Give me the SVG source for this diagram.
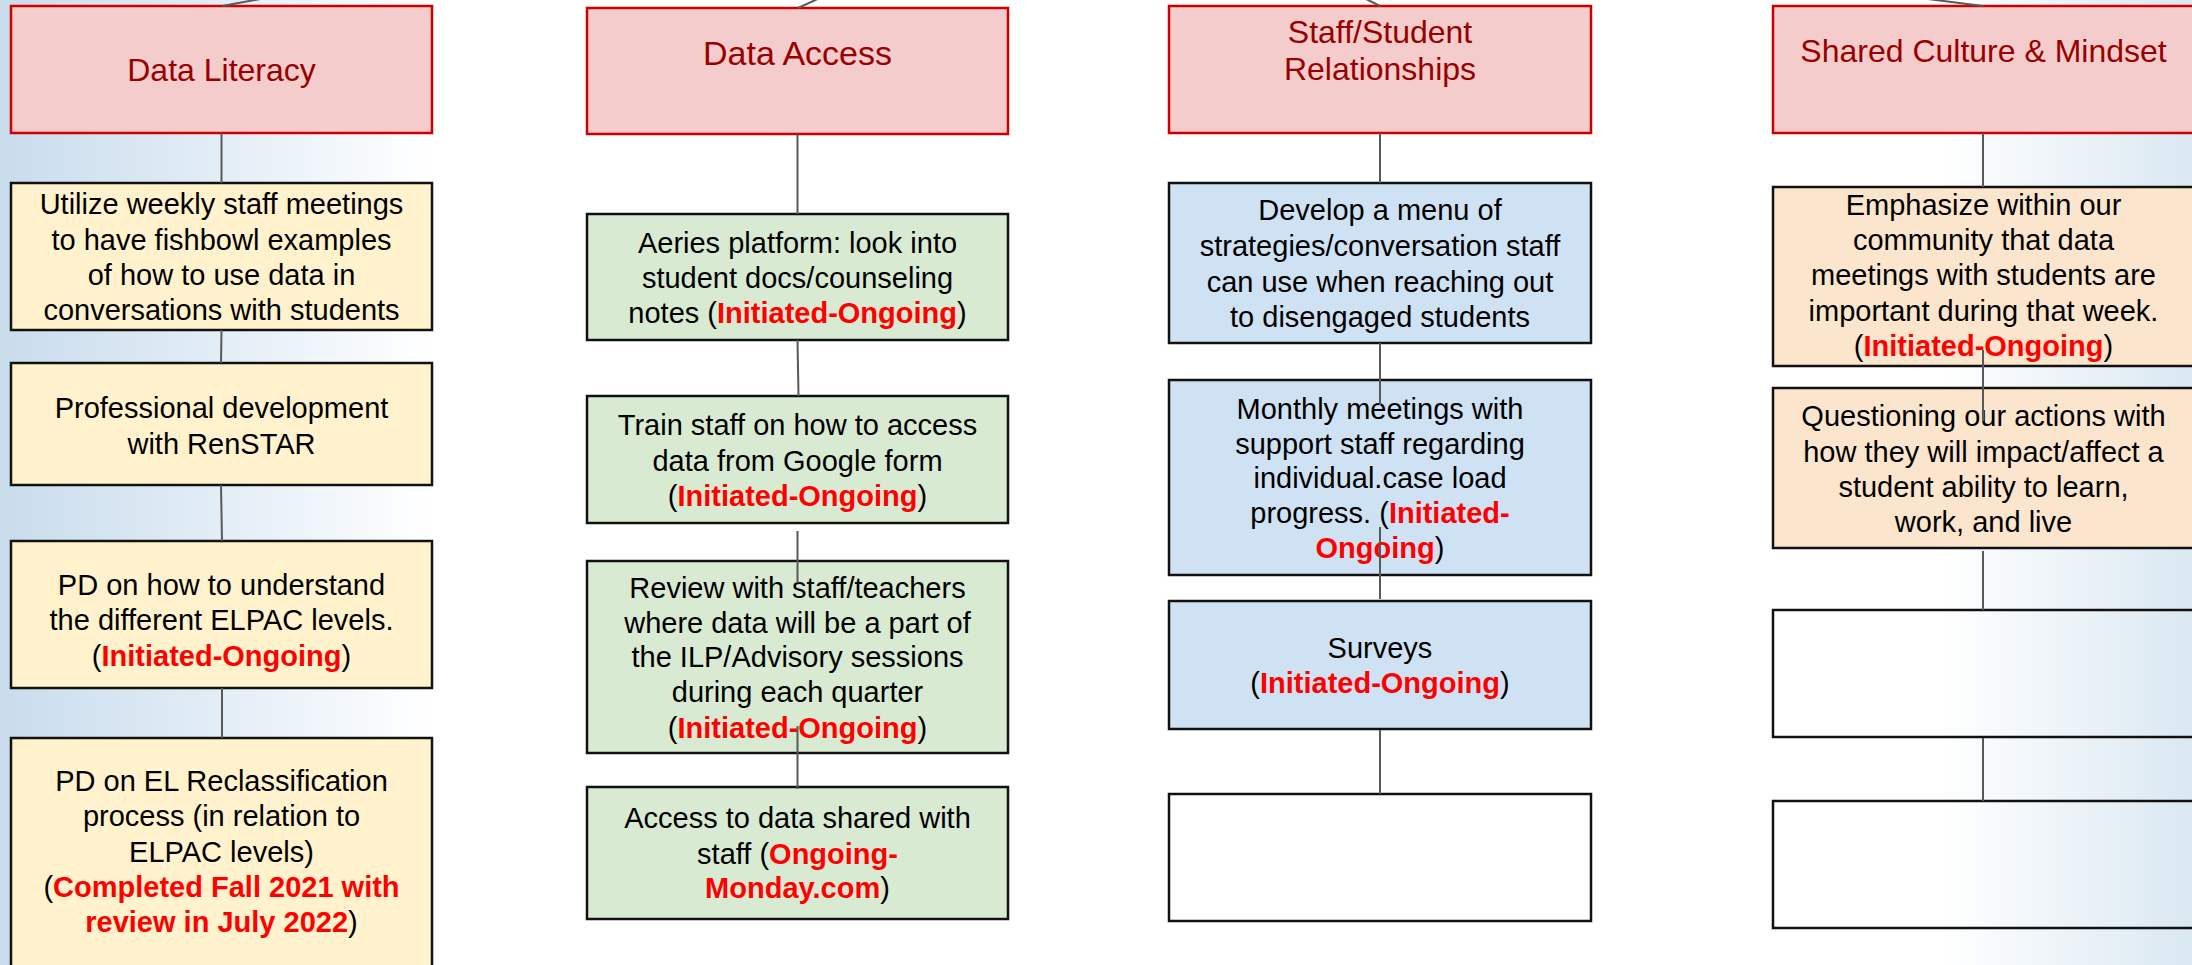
<svg xmlns="http://www.w3.org/2000/svg" width="2192" height="965" viewBox="0 0 2192 965">
<defs>
<linearGradient id="bgL" x1="0" y1="0" x2="1" y2="0">
<stop offset="0" stop-color="#c9dcec"/>
<stop offset="0.5" stop-color="#e2edf6"/>
<stop offset="1" stop-color="#ffffff"/>
</linearGradient>
<linearGradient id="bgR" x1="0" y1="0" x2="1" y2="0">
<stop offset="0" stop-color="#ffffff"/>
<stop offset="1" stop-color="#dae8f2"/>
</linearGradient>
<style>
text{font-family:"Liberation Sans",Arial,sans-serif;text-anchor:middle;}
.hd{fill:#f4cccc;stroke:#cc0000;stroke-width:2.5;}
.ht{fill:#990000;font-size:32px;}
.bx{stroke:#111111;stroke-width:2.5;}
.y{fill:#fff2cc;}
.g{fill:#d9ead3;}
.b{fill:#cfe2f3;}
.o{fill:#fce5cd;}
.e{fill:none;}
.t{fill:#000000;font-size:29px;}
.r{fill:#ff0000;font-weight:bold;}
.c{stroke:#595959;stroke-width:2;fill:none;}
</style>
</defs>
<rect x="0" y="0" width="2192" height="965" fill="#ffffff"/>
<rect x="0" y="0" width="430" height="965" fill="url(#bgL)"/>
<rect x="1940" y="0" width="252" height="965" fill="url(#bgR)"/>

<g id="col1-header"><rect class="hd" x="11" y="6" width="421" height="127"/><text class="ht" x="221.5" y="81">Data Literacy</text></g>
<g id="col1-n1"><rect class="bx y" x="11" y="183" width="421" height="147"/>
<text class="t" x="221.5" y="214">Utilize weekly staff meetings</text>
<text class="t" x="221.5" y="249.5">to have fishbowl examples</text>
<text class="t" x="221.5" y="285">of how to use data in</text>
<text class="t" x="221.5" y="320">conversations with students</text></g>
<g id="col1-n2"><rect class="bx y" x="11" y="363" width="421" height="122"/>
<text class="t" x="221.5" y="418">Professional development</text>
<text class="t" x="221.5" y="454">with RenSTAR</text></g>
<g id="col1-n3"><rect class="bx y" x="11" y="541" width="421" height="147"/>
<text class="t" x="221.5" y="595">PD on how to understand</text>
<text class="t" x="221.5" y="630">the different ELPAC levels.</text>
<text class="t" x="221.5" y="666">(<tspan class="r">Initiated-Ongoing</tspan>)</text></g>
<g id="col1-n4"><rect class="bx y" x="11" y="738" width="421" height="240"/>
<text class="t" x="221.5" y="791">PD on EL Reclassification</text>
<text class="t" x="221.5" y="826">process (in relation to</text>
<text class="t" x="221.5" y="862">ELPAC levels)</text>
<text class="t" x="221.5" y="897">(<tspan class="r">Completed Fall 2021 with</tspan></text>
<text class="t" x="221.5" y="932"><tspan class="r">review in July 2022</tspan>)</text></g>

<g id="col2-header"><rect class="hd" x="587" y="8" width="421" height="126"/><text class="ht" x="797.5" y="65" style="font-size:34px">Data Access</text></g>
<g id="col2-n1"><rect class="bx g" x="587" y="214" width="421" height="126"/>
<text class="t" x="797.5" y="253">Aeries platform: look into</text>
<text class="t" x="797.5" y="288">student docs/counseling</text>
<text class="t" x="797.5" y="323">notes (<tspan class="r">Initiated-Ongoing</tspan>)</text></g>
<g id="col2-n2"><rect class="bx g" x="587" y="396" width="421" height="127"/>
<text class="t" x="797.5" y="435">Train staff on how to access</text>
<text class="t" x="797.5" y="471">data from Google form</text>
<text class="t" x="797.5" y="506">(<tspan class="r">Initiated-Ongoing</tspan>)</text></g>
<g id="col2-n3"><rect class="bx g" x="587" y="561" width="421" height="192"/>
<text class="t" x="797.5" y="598">Review with staff/teachers</text>
<text class="t" x="797.5" y="633">where data will be a part of</text>
<text class="t" x="797.5" y="667">the ILP/Advisory sessions</text>
<text class="t" x="797.5" y="702">during each quarter</text>
<text class="t" x="797.5" y="738">(<tspan class="r">Initiated-Ongoing</tspan>)</text></g>
<g id="col2-n4"><rect class="bx g" x="587" y="787" width="421" height="132"/>
<text class="t" x="797.5" y="828">Access to data shared with</text>
<text class="t" x="797.5" y="864">staff (<tspan class="r">Ongoing-</tspan></text>
<text class="t" x="797.5" y="898"><tspan class="r">Monday.com</tspan>)</text></g>

<g id="col3-header"><rect class="hd" x="1169" y="6" width="422" height="127"/>
<text class="ht" x="1380" y="43">Staff/Student</text>
<text class="ht" x="1380" y="80">Relationships</text></g>
<g id="col3-n1"><rect class="bx b" x="1169" y="183" width="422" height="160"/>
<text class="t" x="1380" y="220">Develop a menu of</text>
<text class="t" x="1380" y="256">strategies/conversation staff</text>
<text class="t" x="1380" y="292">can use when reaching out</text>
<text class="t" x="1380" y="327">to disengaged students</text></g>
<g id="col3-n2"><rect class="bx b" x="1169" y="380" width="422" height="195"/>
<text class="t" x="1380" y="419">Monthly meetings with</text>
<text class="t" x="1380" y="454">support staff regarding</text>
<text class="t" x="1380" y="488">individual.case load</text>
<text class="t" x="1380" y="523">progress. (<tspan class="r">Initiated-</tspan></text>
<text class="t" x="1380" y="558"><tspan class="r">Ongoing</tspan>)</text></g>
<g id="col3-n3"><rect class="bx b" x="1169" y="601" width="422" height="128"/>
<text class="t" x="1380" y="658">Surveys</text>
<text class="t" x="1380" y="693">(<tspan class="r">Initiated-Ongoing</tspan>)</text></g>
<g id="col3-n4"><rect class="bx e" x="1169" y="794" width="422" height="127"/></g>

<g id="col4-header"><rect class="hd" x="1773" y="6" width="421" height="127"/>
<text class="ht" x="1983.5" y="62">Shared Culture &amp; Mindset</text></g>
<g id="col4-n1"><rect class="bx o" x="1773" y="187" width="421" height="179"/>
<text class="t" x="1983.5" y="215">Emphasize within our</text>
<text class="t" x="1983.5" y="250">community that data</text>
<text class="t" x="1983.5" y="285">meetings with students are</text>
<text class="t" x="1983.5" y="321">important during that week.</text>
<text class="t" x="1983.5" y="356">(<tspan class="r">Initiated-Ongoing</tspan>)</text></g>
<g id="col4-n2"><rect class="bx o" x="1773" y="388" width="421" height="160"/>
<text class="t" x="1983.5" y="426">Questioning our actions with</text>
<text class="t" x="1983.5" y="462">how they will impact/affect a</text>
<text class="t" x="1983.5" y="497">student ability to learn,</text>
<text class="t" x="1983.5" y="532">work, and live</text></g>
<g id="col4-n3"><rect class="bx e" x="1773" y="610" width="421" height="127"/></g>
<g id="col4-n4"><rect class="bx e" x="1773" y="801" width="421" height="127"/></g>

<g id="connectors">
<line class="c" x1="222" y1="6" x2="271" y2="-3"/>
<line class="c" x1="798" y1="8" x2="822" y2="-3"/>
<line class="c" x1="1380" y1="6" x2="1362" y2="-3"/>
<line class="c" x1="1983" y1="6" x2="1920" y2="-2"/>
<line class="c" x1="221.5" y1="133" x2="221.5" y2="183"/>
<line class="c" x1="221.5" y1="330" x2="221" y2="363"/>
<line class="c" x1="221" y1="485" x2="222" y2="541"/>
<line class="c" x1="222" y1="688" x2="222" y2="738"/>
<line class="c" x1="797.5" y1="134" x2="797.5" y2="214"/>
<line class="c" x1="797.5" y1="340" x2="798.5" y2="396"/>
<line class="c" x1="797.5" y1="531" x2="797.5" y2="583"/>
<line class="c" x1="797.5" y1="726" x2="797.5" y2="789"/>
<line class="c" x1="1380" y1="133" x2="1380" y2="183"/>
<line class="c" x1="1380" y1="343" x2="1380" y2="405"/>
<line class="c" x1="1380" y1="527" x2="1380" y2="599"/>
<line class="c" x1="1380" y1="730" x2="1380" y2="794"/>
<line class="c" x1="1983" y1="133" x2="1983" y2="187"/>
<line class="c" x1="1983" y1="350" x2="1983" y2="421"/>
<line class="c" x1="1983" y1="551" x2="1983" y2="610"/>
<line class="c" x1="1983" y1="738" x2="1983" y2="801"/>
</g>
</svg>
